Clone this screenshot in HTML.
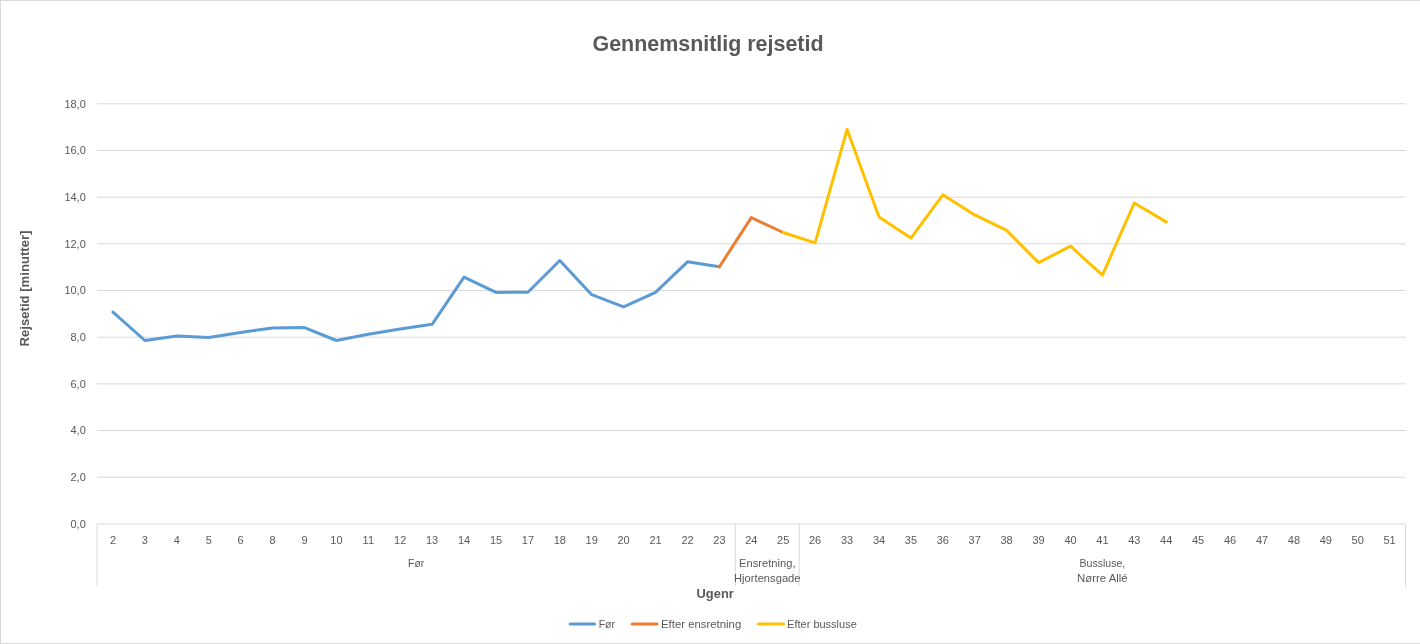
<!DOCTYPE html>
<html lang="da"><head><meta charset="utf-8"><title>Gennemsnitlig rejsetid</title>
<style>
html,body{margin:0;padding:0;background:#fff;}
body{width:1420px;height:644px;overflow:hidden;font-family:"Liberation Sans",sans-serif;}
svg{display:block;}
text{font-family:"Liberation Sans",sans-serif;fill:#595959;}
.t{font-size:11px;}
.b{font-weight:bold;}
</style></head><body>
<svg width="1420" height="644" viewBox="0 0 1420 644">
<rect x="0" y="0" width="1420" height="644" fill="#fff"/>
<rect x="0.5" y="0.5" width="1422" height="643" fill="none" stroke="#d9d9d9" stroke-width="1"/>

<line x1="97.0" y1="103.80" x2="1405.6" y2="103.80" stroke="#d9d9d9" stroke-width="1"/>
<text class="t" x="85.8" y="107.6" text-anchor="end">18,0</text>
<line x1="97.0" y1="150.48" x2="1405.6" y2="150.48" stroke="#d9d9d9" stroke-width="1"/>
<text class="t" x="85.8" y="154.3" text-anchor="end">16,0</text>
<line x1="97.0" y1="197.16" x2="1405.6" y2="197.16" stroke="#d9d9d9" stroke-width="1"/>
<text class="t" x="85.8" y="201.0" text-anchor="end">14,0</text>
<line x1="97.0" y1="243.83" x2="1405.6" y2="243.83" stroke="#d9d9d9" stroke-width="1"/>
<text class="t" x="85.8" y="247.6" text-anchor="end">12,0</text>
<line x1="97.0" y1="290.51" x2="1405.6" y2="290.51" stroke="#d9d9d9" stroke-width="1"/>
<text class="t" x="85.8" y="294.3" text-anchor="end">10,0</text>
<line x1="97.0" y1="337.19" x2="1405.6" y2="337.19" stroke="#d9d9d9" stroke-width="1"/>
<text class="t" x="85.8" y="341.0" text-anchor="end">8,0</text>
<line x1="97.0" y1="383.87" x2="1405.6" y2="383.87" stroke="#d9d9d9" stroke-width="1"/>
<text class="t" x="85.8" y="387.7" text-anchor="end">6,0</text>
<line x1="97.0" y1="430.54" x2="1405.6" y2="430.54" stroke="#d9d9d9" stroke-width="1"/>
<text class="t" x="85.8" y="434.3" text-anchor="end">4,0</text>
<line x1="97.0" y1="477.22" x2="1405.6" y2="477.22" stroke="#d9d9d9" stroke-width="1"/>
<text class="t" x="85.8" y="481.0" text-anchor="end">2,0</text>
<line x1="97.0" y1="523.90" x2="1405.6" y2="523.90" stroke="#d9d9d9" stroke-width="1"/>
<text class="t" x="85.8" y="527.7" text-anchor="end">0,0</text>
<line x1="97.00" y1="523.9" x2="97.00" y2="586.3" stroke="#d9d9d9" stroke-width="1"/>
<line x1="735.34" y1="523.9" x2="735.34" y2="586.3" stroke="#d9d9d9" stroke-width="1"/>
<line x1="799.18" y1="523.9" x2="799.18" y2="586.3" stroke="#d9d9d9" stroke-width="1"/>
<line x1="1405.60" y1="523.9" x2="1405.60" y2="586.3" stroke="#d9d9d9" stroke-width="1"/>
<text class="t" x="113.0" y="543.7" text-anchor="middle">2</text>
<text class="t" x="144.9" y="543.7" text-anchor="middle">3</text>
<text class="t" x="176.8" y="543.7" text-anchor="middle">4</text>
<text class="t" x="208.7" y="543.7" text-anchor="middle">5</text>
<text class="t" x="240.6" y="543.7" text-anchor="middle">6</text>
<text class="t" x="272.5" y="543.7" text-anchor="middle">8</text>
<text class="t" x="304.5" y="543.7" text-anchor="middle">9</text>
<text class="t" x="336.4" y="543.7" text-anchor="middle">10</text>
<text class="t" x="368.3" y="543.7" text-anchor="middle">11</text>
<text class="t" x="400.2" y="543.7" text-anchor="middle">12</text>
<text class="t" x="432.1" y="543.7" text-anchor="middle">13</text>
<text class="t" x="464.0" y="543.7" text-anchor="middle">14</text>
<text class="t" x="496.0" y="543.7" text-anchor="middle">15</text>
<text class="t" x="527.9" y="543.7" text-anchor="middle">17</text>
<text class="t" x="559.8" y="543.7" text-anchor="middle">18</text>
<text class="t" x="591.7" y="543.7" text-anchor="middle">19</text>
<text class="t" x="623.6" y="543.7" text-anchor="middle">20</text>
<text class="t" x="655.5" y="543.7" text-anchor="middle">21</text>
<text class="t" x="687.5" y="543.7" text-anchor="middle">22</text>
<text class="t" x="719.4" y="543.7" text-anchor="middle">23</text>
<text class="t" x="751.3" y="543.7" text-anchor="middle">24</text>
<text class="t" x="783.2" y="543.7" text-anchor="middle">25</text>
<text class="t" x="815.1" y="543.7" text-anchor="middle">26</text>
<text class="t" x="847.1" y="543.7" text-anchor="middle">33</text>
<text class="t" x="879.0" y="543.7" text-anchor="middle">34</text>
<text class="t" x="910.9" y="543.7" text-anchor="middle">35</text>
<text class="t" x="942.8" y="543.7" text-anchor="middle">36</text>
<text class="t" x="974.7" y="543.7" text-anchor="middle">37</text>
<text class="t" x="1006.6" y="543.7" text-anchor="middle">38</text>
<text class="t" x="1038.6" y="543.7" text-anchor="middle">39</text>
<text class="t" x="1070.5" y="543.7" text-anchor="middle">40</text>
<text class="t" x="1102.4" y="543.7" text-anchor="middle">41</text>
<text class="t" x="1134.3" y="543.7" text-anchor="middle">43</text>
<text class="t" x="1166.2" y="543.7" text-anchor="middle">44</text>
<text class="t" x="1198.1" y="543.7" text-anchor="middle">45</text>
<text class="t" x="1230.1" y="543.7" text-anchor="middle">46</text>
<text class="t" x="1262.0" y="543.7" text-anchor="middle">47</text>
<text class="t" x="1293.9" y="543.7" text-anchor="middle">48</text>
<text class="t" x="1325.8" y="543.7" text-anchor="middle">49</text>
<text class="t" x="1357.7" y="543.7" text-anchor="middle">50</text>
<text class="t" x="1389.6" y="543.7" text-anchor="middle">51</text>
<text class="t" x="416.2" y="566.9" text-anchor="middle" textLength="16.2" lengthAdjust="spacingAndGlyphs">Før</text>
<text class="t" x="767.3" y="567" text-anchor="middle" textLength="56.4" lengthAdjust="spacingAndGlyphs">Ensretning,</text>
<text class="t" x="767.3" y="582" text-anchor="middle" textLength="66.5" lengthAdjust="spacingAndGlyphs">Hjortensgade</text>
<text class="t" x="1102.4" y="567.3" text-anchor="middle" textLength="45.7" lengthAdjust="spacingAndGlyphs">Bussluse,</text>
<text class="t" x="1102.4" y="581.8" text-anchor="middle" textLength="50.6" lengthAdjust="spacingAndGlyphs">Nørre Allé</text>
<polyline points="113.0,312.1 144.9,340.5 176.8,336.0 208.7,337.5 240.6,332.4 272.5,327.9 304.5,327.6 336.4,340.5 368.3,334.2 400.2,329.1 432.1,324.3 464.0,277.2 496.0,292.4 527.9,292.2 559.8,260.5 591.7,294.7 623.6,306.9 655.5,292.4 687.5,261.8 719.4,266.8" stroke="#5b9bd5" fill="none" stroke-width="3" stroke-linecap="round" stroke-linejoin="round"/>
<polyline points="719.4,266.8 751.3,217.6 783.2,232.5" stroke="#ed7d31" fill="none" stroke-width="3" stroke-linecap="round" stroke-linejoin="round"/>
<polyline points="783.2,232.5 815.1,242.9 847.1,129.4 879.0,216.9 910.9,238.1 942.8,194.8 974.7,214.9 1006.6,230.4 1038.6,262.6 1070.5,246.2 1102.4,275.2 1134.3,203.0 1166.2,221.9" stroke="#ffc000" fill="none" stroke-width="3" stroke-linecap="round" stroke-linejoin="round"/>
<text class="b" x="708" y="50.8" font-size="22" text-anchor="middle" textLength="231" lengthAdjust="spacingAndGlyphs">Gennemsnitlig rejsetid</text>
<text class="b" x="715.2" y="597.9" font-size="13" text-anchor="middle" textLength="37.3" lengthAdjust="spacingAndGlyphs">Ugenr</text>
<text class="b" transform="translate(29.2,288.5) rotate(-90)" font-size="13" text-anchor="middle" textLength="115.9" lengthAdjust="spacingAndGlyphs">Rejsetid [minutter]</text>
<line x1="570.1" y1="623.9" x2="594.5" y2="623.9" stroke="#5b9bd5" stroke-width="3" stroke-linecap="round"/>
<text class="t" x="598.7" y="627.7" textLength="16.2" lengthAdjust="spacingAndGlyphs">Før</text>
<line x1="632.1" y1="623.9" x2="657" y2="623.9" stroke="#ed7d31" stroke-width="3" stroke-linecap="round"/>
<text class="t" x="661.0" y="627.7" textLength="80.2" lengthAdjust="spacingAndGlyphs">Efter ensretning</text>
<line x1="758.3" y1="623.9" x2="783.7" y2="623.9" stroke="#ffc000" stroke-width="3" stroke-linecap="round"/>
<text class="t" x="787.1" y="627.7" textLength="69.7" lengthAdjust="spacingAndGlyphs">Efter bussluse</text>
</svg></body></html>
